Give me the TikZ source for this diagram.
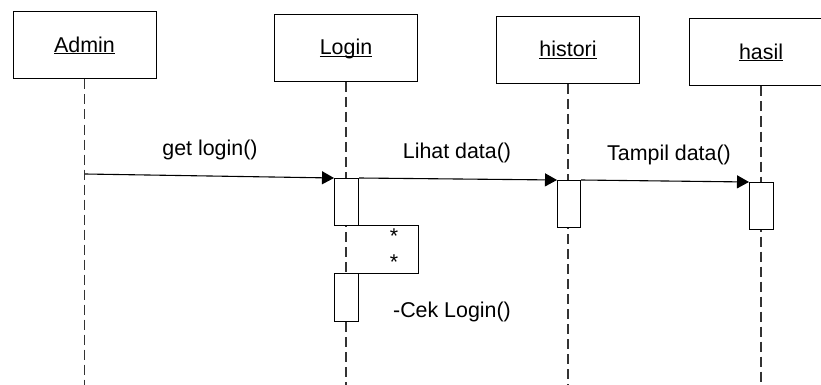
\documentclass[tikz,border=0pt]{standalone}
\usepackage{fontspec}
\setmainfont{Liberation Sans}
\usetikzlibrary{arrows.meta}
% underline sitting just under the baseline, whatever the descenders
\newcommand{\objname}[1]{\underline{\raisebox{0pt}[\height][0pt]{#1}}}
\begin{document}
\begin{tikzpicture}[x=1pt,y=-1pt,
  every node/.style={font=\fontsize{21.4}{24}\selectfont, inner sep=0pt},
  object/.style={draw, line width=1pt, minimum width=143pt, minimum height=67pt},
  act/.style={draw, fill=white, line width=1pt, minimum width=24pt, anchor=north west},
  lifeline/.style={line width=1.1pt, dash pattern=on 10pt off 5pt, black!80},
  msg/.style={line width=1.1pt, -{Triangle[length=12pt,width=13pt]}},
  lbl/.style={}
]
\useasboundingbox (0,0) rectangle (821,385);
\clip (0,0) rectangle (821,385);

% objects
\node[object] (admin)   at (84.5,45.5) {\objname{Admin}};
\node[object] (login)   at (346,48)    {\objname{Login}};
\node[object] (histori) at (568,50)    {\objname{histori}};
\node[object] (hasil)   at (761,52.5)  {\objname{hasil}};

% lifelines
\coordinate (adminEnd)   at (admin.south |- 0,385);
\coordinate (loginEnd)   at (login.south |- 0,385);
\coordinate (historiEnd) at (histori.south |- 0,385);
\coordinate (hasilEnd)   at (hasil.south |- 0,385);
\draw[lifeline] (admin.south) -- (adminEnd);
\draw[lifeline] (login.south) -- (loginEnd);
\draw[lifeline] (histori.south) -- (historiEnd);
\draw[lifeline] (hasil.south) -- (hasilEnd);

% self call frame on Login
\coordinate (selfA) at (334,225);
\coordinate (selfB) at (418,225);
\coordinate (selfC) at (418,273);
\coordinate (selfD) at (334,273);
\draw[line width=1pt] (selfA) -- (selfB) -- (selfC) -- (selfD);
\node (star1) at (394,236) {*};
\node (star2) at (394,262) {*};

% activations
\node[act, minimum height=47pt] (loginAct)   at (334,178) {};
\node[act, minimum height=48pt] (loginAct2)  at (334,273) {};
\node[act, minimum width=23pt, minimum height=47pt] (historiAct) at (557,180) {};
\node[act, minimum height=47pt] (hasilAct)   at (749,182) {};

% messages
\coordinate (getStart) at (85,174);
\draw[msg] (getStart) -- (loginAct.north west);
\draw[msg] (loginAct.north east) -- (historiAct.north west);
\draw[msg] (historiAct.north east) -- (hasilAct.north west);

% labels
\node[lbl] (lGet)    at (210,150) {get login()};
\node[lbl] (lLihat)  at (457,153) {Lihat data()};
\node[lbl] (lTampil) at (669,155) {Tampil data()};
\node[lbl] (lCek)    at (452,312) {-Cek Login()};
\end{tikzpicture}
\end{document}
